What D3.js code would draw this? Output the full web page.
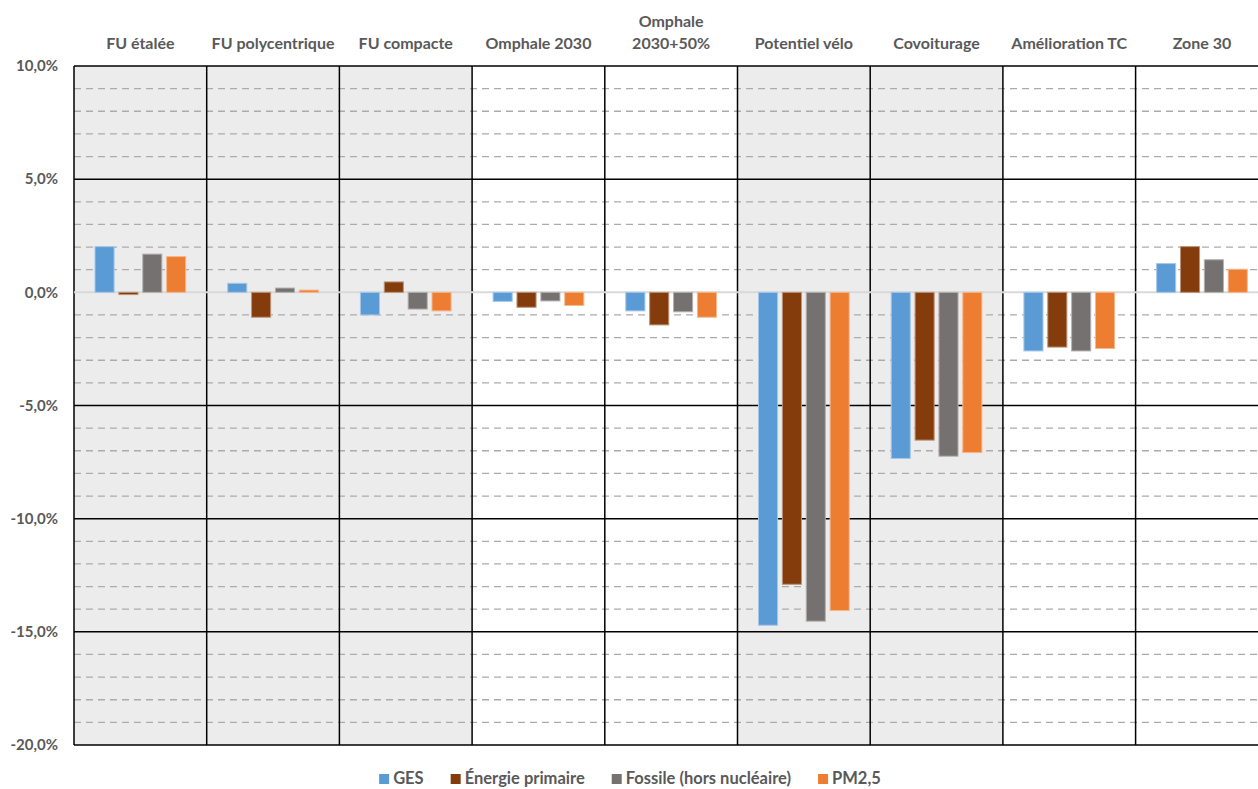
<!DOCTYPE html>
<html>
<head>
<meta charset="utf-8">
<script src="https://cdn.jsdelivr.net/npm/d3@7"></script>
<style>
  html, body { margin: 0; padding: 0; background: #ffffff; }
  svg { display: block; font-family: Lato, "Noto Sans", sans-serif; }
</style>
</head>
<body>
<svg id="chart" width="1258" height="789"></svg>
<script>
// ---- Data ----
const categories = ["FU étalée", "FU polycentrique", "FU compacte", "Omphale 2030", "Omphale\n2030+50%", "Potentiel vélo", "Covoiturage", "Amélioration TC", "Zone 30"];
const shadedGroups = [true, true, true, false, false, true, true, false, false];
const seriesNames = ["GES", "Énergie primaire", "Fossile (hors nucléaire)", "PM2,5"];
const gesValues      = [2.02, 0.40, -1.00, -0.40, -0.82, -14.71, -7.34, -2.59, 1.27];
const energieValues  = [-0.10, -1.10, 0.46, -0.66, -1.44, -12.90, -6.53, -2.42, 2.02];
const fossileValues  = [1.69, 0.19, -0.74, -0.38, -0.86, -14.53, -7.24, -2.59, 1.44];
const pm25Values     = [1.58, 0.10, -0.82, -0.58, -1.10, -14.06, -7.08, -2.48, 1.02];
const yTicks = [10, 5, 0, -5, -10, -15, -20];
const yMinorStep = 1;
const seriesColors = ["#5b9bd5", "#843c0c", "#767171", "#ed7d31"];

const seriesValues = [gesValues, energieValues, fossileValues, pm25Values];

// ---- Layout ----
const svg = d3.select("#chart");
const plotLeft = 74, colW = 132.7, plotTop = 66, plotBottom = 745;
const plotRight = plotLeft + categories.length * colW;

const x = d3.scaleBand().domain(categories).range([plotLeft, plotRight]).padding(0);
const inner = d3.scaleBand().domain(seriesNames).range([21, colW - 21]).paddingInner(0.2).paddingOuter(0);
const y = d3.scaleLinear().domain([-20, 10]).range([plotBottom, plotTop]);

const locale = d3.formatLocale({decimal: ",", thousands: " ", grouping: [3], currency: ["", "€"], minus: "-"});
const fmt = v => locale.format(".1f")(v) + "%";

// shading
svg.append("g").selectAll("rect").data(categories).join("rect")
  .attr("x", d => x(d)).attr("y", y(10))
  .attr("width", x.bandwidth()).attr("height", y(-20) - y(10))
  .attr("fill", (d, i) => shadedGroups[i] ? "#ececec" : "#ffffff");

// minor dashed gridlines
const minor = d3.range(-20, 10 + 0.001, yMinorStep).filter(v => v % 5 !== 0);
svg.append("g").selectAll("line").data(minor).join("line")
  .attr("x1", plotLeft).attr("x2", plotRight)
  .attr("y1", d => y(d)).attr("y2", d => y(d))
  .attr("stroke", "#ababab").attr("stroke-width", 1.3)
  .attr("stroke-dasharray", "7,5");

// major gridlines
svg.append("g").selectAll("line").data(yTicks.filter(v => v !== 0)).join("line")
  .attr("x1", plotLeft).attr("x2", plotRight)
  .attr("y1", d => y(d)).attr("y2", d => y(d))
  .attr("stroke", "#000").attr("stroke-width", 1.5);

// vertical separators
const boundaries = categories.map(c => x(c)).concat([plotRight]);
svg.append("g").selectAll("line").data(boundaries).join("line")
  .attr("x1", d => d).attr("x2", d => d)
  .attr("y1", y(10)).attr("y2", y(-20))
  .attr("stroke", "#000").attr("stroke-width", 1.5);

// zero line
svg.append("line")
  .attr("x1", plotLeft).attr("x2", plotRight)
  .attr("y1", y(0)).attr("y2", y(0))
  .attr("stroke", "#d9d9d9").attr("stroke-width", 2);

// bars
const barData = [];
categories.forEach((c, i) => {
  seriesNames.forEach((s, j) => {
    barData.push({cat: c, series: s, j: j, value: seriesValues[j][i]});
  });
});
svg.append("g").selectAll("rect").data(barData).join("rect")
  .attr("x", d => x(d.cat) + inner(d.series))
  .attr("y", d => y(Math.max(0, d.value)))
  .attr("width", inner.bandwidth())
  .attr("height", d => Math.abs(y(d.value) - y(0)))
  .attr("fill", d => seriesColors[d.j])
  .attr("stroke", d => d3.interpolateRgb(seriesColors[d.j], "#ffffff")(0.45))
  .attr("stroke-width", 1);

// y axis labels
const yAxis = d3.axisLeft(y).tickValues(yTicks).tickFormat(fmt).tickSize(0).tickPadding(16);
const gy = svg.append("g").attr("transform", `translate(${plotLeft},0)`).call(yAxis);
gy.select(".domain").remove();
gy.selectAll("text")
  .attr("fill", "#595959").attr("font-size", 15).attr("font-weight", 700)
  .attr("font-family", "Lato, 'Noto Sans', sans-serif");

// category headers
const gx = svg.append("g");
categories.forEach(c => {
  const lines = c.split("\n");
  const t = gx.append("text")
    .attr("x", x(c) + x.bandwidth() / 2)
    .attr("text-anchor", "middle")
    .attr("fill", "#595959").attr("font-size", 16).attr("font-weight", 700);
  lines.forEach((ln, k) => {
    t.append("tspan")
      .attr("x", x(c) + x.bandwidth() / 2)
      .attr("y", 49 - (lines.length - 1 - k) * 22)
      .text(ln);
  });
});

// legend
const lg = svg.append("g");
let cx = 0;
const legendGap = 27;
seriesNames.forEach((s, j) => {
  const g = lg.append("g");
  g.append("rect").attr("x", 0).attr("y", -10).attr("width", 10).attr("height", 10).attr("fill", seriesColors[j]);
  const t = g.append("text").attr("x", 14).attr("y", 0)
    .attr("fill", "#595959").attr("font-size", 16.5).attr("font-weight", 700).text(s);
  const w = 14 + t.node().getComputedTextLength();
  g.attr("transform", `translate(${cx},0)`);
  cx += w + legendGap;
});
const totalW = cx - legendGap;
lg.attr("transform", `translate(${630 - totalW / 2},${784})`);
</script>
</body>
</html>
